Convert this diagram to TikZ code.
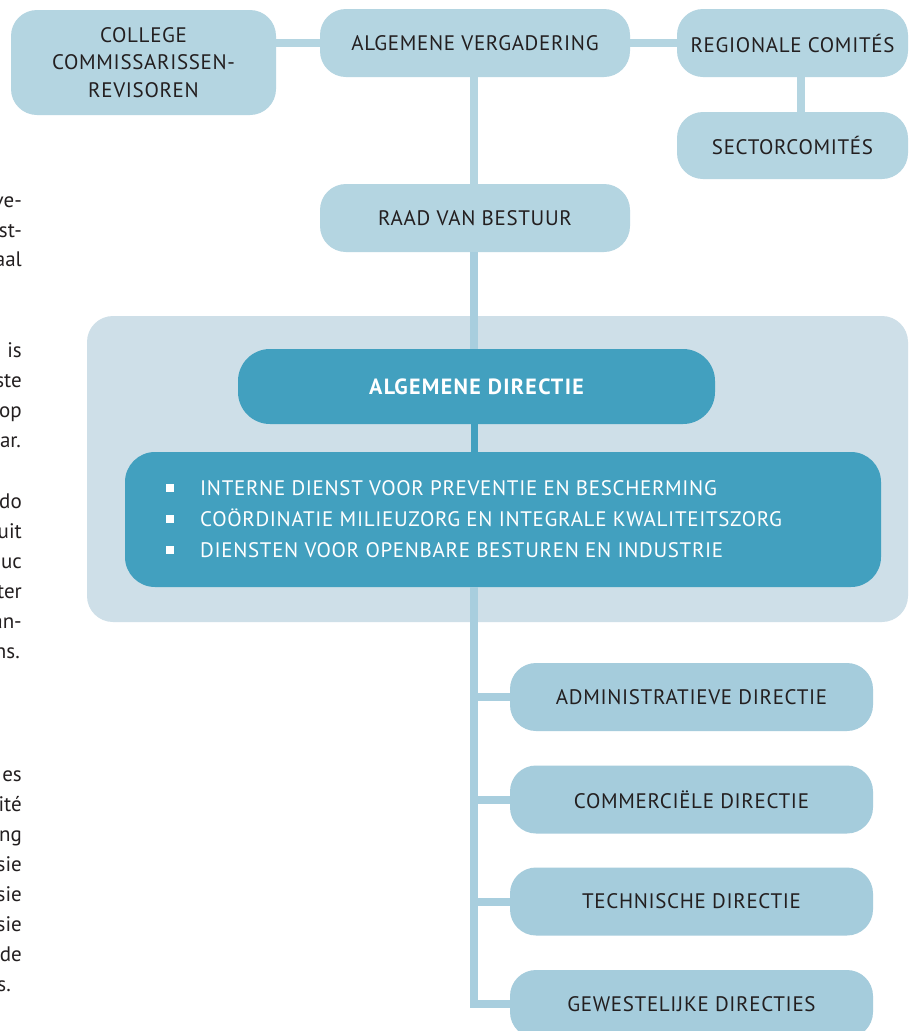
\documentclass[tikz,border=0pt]{standalone}
\usepackage{fontspec}
\setmainfont{PT Sans}
\newfontfamily\lblfont[LetterSpace=3.2]{PT Sans}
\newfontfamily\headfont[LetterSpace=6]{PT Sans}
\definecolor{boxA}{HTML}{B4D5E1}
\definecolor{boxB}{HTML}{A5CCDC}
\definecolor{lineA}{HTML}{B4D5E1}
\definecolor{lineB}{HTML}{A8CEDE}
\definecolor{bgc}{HTML}{CEDFE8}
\definecolor{tealc}{HTML}{42A0BF}
\definecolor{txt}{HTML}{231F20}
\tikzset{
  lbl/.style={font=\lblfont\fontsize{21}{27.5}\selectfont},
  lightbox/.style={lbl, fill=boxA, draw=none, rounded corners=26pt, text=txt, inner sep=0pt, align=center},
  branchbox/.style={lightbox, fill=boxB, minimum width=363pt, minimum height=68pt},
  darkbox/.style={fill=tealc, draw=none, rounded corners=32pt, text=white, inner sep=0pt},
  bgbox/.style={fill=bgc, draw=none, rounded corners=26pt, inner sep=0pt},
  conA/.style={draw=lineA, line width=8pt},
  conB/.style={draw=lineB, line width=8pt},
  conT/.style={draw=tealc, line width=7pt},
  bullet/.style={fill=white, draw=none, minimum size=8pt, inner sep=0pt},
  itemtxt/.style={lbl, text=white, anchor=base west, inner sep=0pt},
  bodytxt/.style={font=\fontsize{21}{30}\selectfont, text=txt, anchor=base east, inner sep=0pt}
}
\begin{document}
\begin{tikzpicture}[x=1pt,y=-1pt]
\clip (0,0) rectangle (909,1031);
\fill[white] (0,0) rectangle (909,1031);
\coordinate (sp) at (474,0);
% background panel
\node[bgbox, minimum width=821pt, minimum height=306pt] (bg) at (497.5,469) {};
% top nodes
\node[lightbox, minimum width=265pt, minimum height=105pt] (col) at (143.5,62.5) {COLLEGE\\COMMISSARISSEN-\\REVISOREN};
\node[lightbox, minimum width=310pt, minimum height=68pt] (av) at (475,43) {ALGEMENE VERGADERING};
\node[lightbox, minimum width=231pt, minimum height=68pt] (rc) at (792.5,43) {REGIONALE COMITÉS};
\node[lightbox, minimum width=231pt, minimum height=67pt] (sc) at (792.5,145.5) {SECTORCOMITÉS};
\node[lightbox, minimum width=310pt, minimum height=68pt] (rvb) at (475,218) {RAAD VAN BESTUUR};
% algemene directie
\node[darkbox, minimum width=477pt, minimum height=75pt, font=\headfont\bfseries\fontsize{22}{26}\selectfont] (ad) at (476.5,386.5) {ALGEMENE DIRECTIE};
\node[darkbox, rounded corners=30pt, minimum width=756pt, minimum height=135pt] (lb) at (503,519.5) {};
\node[bullet] (b1) at (170,488) {};
\node[bullet] (b2) at (170,519) {};
\node[bullet] (b3) at (170,550) {};
\node[itemtxt] (i1) at (200,495.5) {INTERNE DIENST VOOR PREVENTIE EN BESCHERMING};
\node[itemtxt] (i2) at (200,526.5) {COÖRDINATIE MILIEUZORG EN INTEGRALE KWALITEITSZORG};
\node[itemtxt] (i3) at (200,557.5) {DIENSTEN VOOR OPENBARE BESTUREN EN INDUSTRIE};
% directies
\node[branchbox] (adm) at (691.5,697) {ADMINISTRATIEVE DIRECTIE};
\node[branchbox] (com) at (691.5,799.5) {COMMERCIËLE DIRECTIE};
\node[branchbox] (tec) at (691.5,901.5) {TECHNISCHE DIRECTIE};
\node[branchbox] (gew) at (691.5,1004) {GEWESTELIJKE DIRECTIES};
% connectors
\draw[conA] (av.west) -- (av.west -| col.east);
\draw[conA] (av.east) -- (rc.west);
\draw[conA] ([xshift=8.5pt]rc.south) -- ([xshift=8.5pt]sc.north);
\draw[conA] (av.south -| sp) -- (rvb.north -| sp);
\draw[conB] (rvb.south -| sp) -- (ad.north -| sp);
\draw[conT] (ad.south -| sp) -- (lb.north -| sp);
\draw[conB, line join=miter] (lb.south -| sp) |- (gew.west);
\draw[conB] (adm.west -| sp) -- (adm.west);
\draw[conB] (com.west -| sp) -- (com.west);
\draw[conB] (tec.west -| sp) -- (tec.west);
% cut-off text column on the left
\node[bodytxt] (l1) at (22,207) {ve-};
\node[bodytxt] (l2) at (22,237) {st-};
\node[bodytxt] (l3) at (22,266) {aal};
\node[bodytxt] (l4) at (22,357) {is};
\node[bodytxt] (l5) at (22,387) {ste};
\node[bodytxt] (l6) at (22,417) {op};
\node[bodytxt] (l7) at (21,447) {ar.};
\node[bodytxt] (l8) at (22,508) {do};
\node[bodytxt] (l9) at (22,538) {uit};
\node[bodytxt] (l10) at (22,568) {uc};
\node[bodytxt] (l11) at (22,598) {ter};
\node[bodytxt] (l12) at (22,628) {an-};
\node[bodytxt] (l13) at (20,658) {ns.};
\node[bodytxt] (l14) at (22,781) {es};
\node[bodytxt] (l15) at (22,811) {ité};
\node[bodytxt] (l16) at (22,841) {ng};
\node[bodytxt] (l17) at (22,871) {sie};
\node[bodytxt] (l18) at (22,901) {sie};
\node[bodytxt] (l19) at (22,931) {sie};
\node[bodytxt] (l20) at (22,961) {de};
\node[bodytxt] (l21) at (11,991) {s.};
\end{tikzpicture}
\end{document}
